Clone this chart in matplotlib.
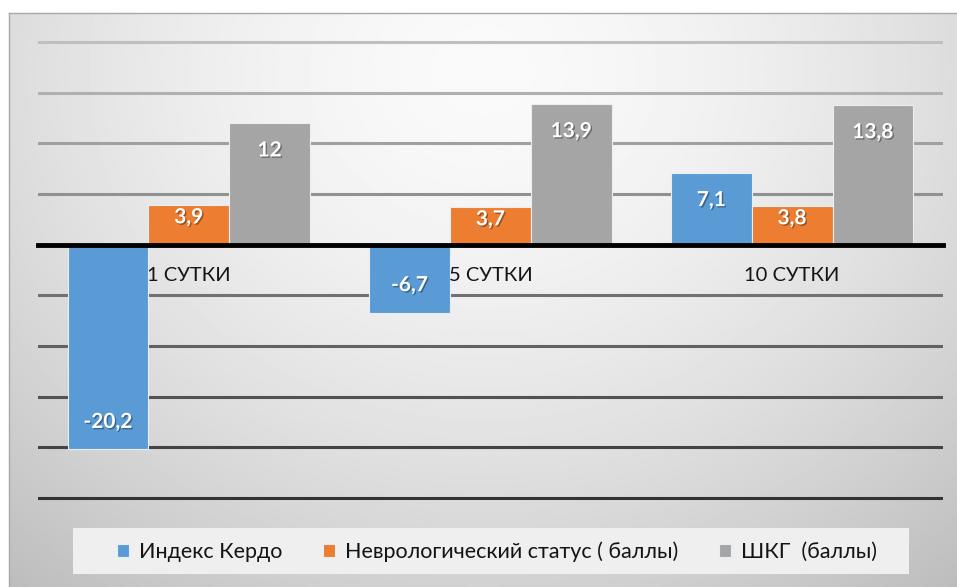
import numpy as np
import matplotlib.pyplot as plt
import matplotlib.patheffects as pe
from matplotlib.patches import Rectangle

plt.rcParams['font.family'] = ['Lato', 'DejaVu Sans']

categories = ['1 СУТКИ', '5 СУТКИ', '10 СУТКИ']
series_names = ['Индекс Кердо', 'Неврологический статус ( баллы)', 'ШКГ  (баллы)']
kerdo = [-20.2, -6.7, 7.1]
nevro = [3.9, 3.7, 3.8]
shkg = [12, 13.9, 13.8]
colors = ['#5b9bd5', '#ed7d31', '#a5a5a5']

fig = plt.figure(figsize=(9.57, 5.87), dpi=100)

# gradient background of the chart area
bg = fig.add_axes([9 / 957, 0, 948 / 957, 574 / 587])
yy, xx = np.mgrid[0:1:300j, 0:1:500j]
r = np.sqrt(((xx - 0.5) / 0.75) ** 2 + ((yy - 0.1) / 1.1) ** 2)
shade = 0.98 - 0.22 * np.clip(r, 0, 1.2) ** 1.6
bg.imshow(shade, cmap='gray', vmin=0, vmax=1, aspect='auto', extent=(0, 1, 1, 0))
bg.set_xticks([])
bg.set_yticks([])
for s in ['right', 'bottom']:
    bg.spines[s].set_visible(False)
for s in ['top', 'left']:
    bg.spines[s].set_color('#a8a8a8')
    bg.spines[s].set_linewidth(1)

ax = fig.add_axes([38 / 957, 1 - 503 / 587, 905 / 957, 466 / 587])
ax.patch.set_alpha(0)
ax.spines['bottom'].set_position(('data', 0))

x = np.arange(len(categories))
w = 0.268
data = [kerdo, nevro, shkg]
for i, vals in enumerate(data):
    pos = x + (i - 1) * w
    ax.bar(pos, vals, w, color=colors[i], edgecolor='#e8eef5', linewidth=0.8,
           label=series_names[i], zorder=2)
    for xp, v in zip(pos, vals):
        off = 2.7 if abs(v) > 5 else 1.2
        yv = v - off if v > 0 else v + off
        ax.text(xp, yv, f'{v:g}'.replace('.', ','), ha='center', va='center',
                color='white', fontsize=15, fontweight='bold', zorder=3,
                path_effects=[pe.withSimplePatchShadow(offset=(1, -1), shadow_rgbFace='black', alpha=0.35)])

ax.set_xlim(-0.5, 2.5)
ax.set_ylim(-25.5, 20.5)
ax.set_yticks(range(-25, 21, 5))
ax.yaxis.grid(True, linewidth=2.2)
ax.set_axisbelow(True)
glines = ax.get_ygridlines()
for k, gl in enumerate(glines):
    t = k / (len(glines) - 1)
    c = 0.2 + 0.55 * t
    gl.set_color((c, c, c))
ax.tick_params(axis='y', length=0, labelleft=False)

ax.set_xticks(x)
ax.set_xticklabels(categories)
ax.tick_params(axis='x', length=0, pad=16, labelsize=14.5, labelcolor='#141414')
ax.xaxis.set_zorder(5)
ax.spines['bottom'].set_color('black')
ax.spines['bottom'].set_linewidth(3.5)
ax.spines['bottom'].set_zorder(4)
for s in ['top', 'left', 'right']:
    ax.spines[s].set_visible(False)

# legend box
fig.patches.append(Rectangle((73 / 957, 1 - 574 / 587), 836 / 957, 46 / 587,
                             transform=fig.transFigure, facecolor='#efefef',
                             edgecolor='none', zorder=0))
fig.legend(loc='center', bbox_to_anchor=(497 / 957, 1 - 552 / 587), ncol=3,
           frameon=False, fontsize=15.5, handlelength=0.55, handleheight=0.55,
           handletextpad=0.45, columnspacing=1.9, labelcolor='#141414')

fig.savefig('out.png', dpi=100)
